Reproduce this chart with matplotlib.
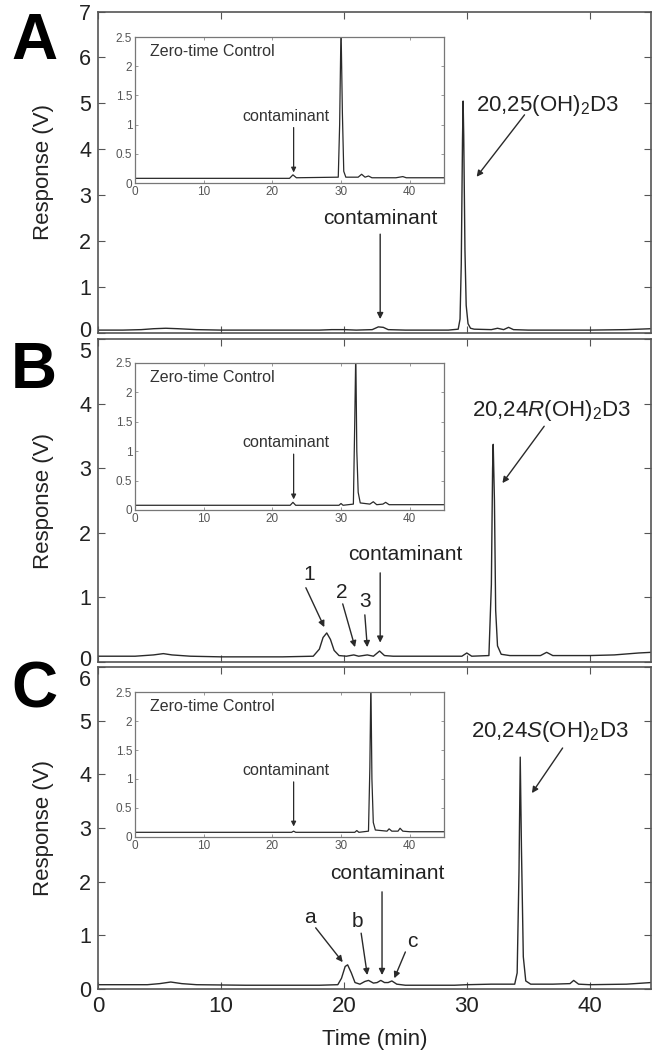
import matplotlib
matplotlib.use('Agg')
import matplotlib.pyplot as plt
from matplotlib.transforms import ScaledTranslation

plt.rcParams['font.family'] = ['Liberation Sans', 'DejaVu Sans']
plt.rcParams['mathtext.fontset'] = 'custom'
plt.rcParams['mathtext.rm'] = 'Liberation Sans'
plt.rcParams['mathtext.it'] = 'Liberation Sans:italic'

# chromatogram traces (time in min, response in V)
t_a = [0, 2, 3.5, 4.5, 5.5, 6.5, 8, 10, 14, 18, 19, 20, 21, 22.3, 22.8, 23.2, 23.6, 25, 27, 28.5,
       29.3, 29.45, 29.55, 29.65, 29.7, 29.75, 29.85, 29.95, 30.1, 30.3, 30.6,
       32, 32.5, 33, 33.4, 33.8, 35, 38, 40, 43, 44, 45]
v_a = [0.06, 0.06, 0.07, 0.09, 0.1, 0.09, 0.07, 0.06, 0.06, 0.06, 0.07, 0.07, 0.06, 0.07, 0.13, 0.12, 0.07, 0.06, 0.06, 0.06,
       0.08, 0.3, 1.5, 4.2, 5.05, 4.3, 1.8, 0.6, 0.2, 0.1, 0.08,
       0.07, 0.1, 0.07, 0.12, 0.07, 0.06, 0.06, 0.06, 0.07, 0.08, 0.09]

t_a_ctrl = [0, 10, 20, 22.5, 23, 23.5, 29.6, 29.8, 30.0, 30.2, 30.4, 30.7, 32.5, 33, 33.5, 34, 34.5, 38, 39, 39.5, 42, 45]
v_a_ctrl = [0.08, 0.08, 0.08, 0.08, 0.14, 0.09, 0.1, 1.0, 2.7, 1.2, 0.2, 0.1, 0.1, 0.15, 0.1, 0.12, 0.09, 0.09, 0.11, 0.09, 0.09, 0.09]

t_b = [0, 3, 4.5, 5.3, 6, 7.5, 10, 15, 17.5, 18.0, 18.3, 18.6, 18.9, 19.2, 19.6, 20.2, 20.8, 21.2, 21.9, 22.4,
       22.9, 23.3, 24, 27, 29.6, 30, 30.4, 31.8, 32.0, 32.1, 32.15, 32.25, 32.35, 32.5, 32.8, 33.5,
       36, 36.5, 37, 40, 42, 44, 45]
v_b = [0.09, 0.09, 0.11, 0.13, 0.11, 0.09, 0.08, 0.08, 0.09, 0.2, 0.38, 0.45, 0.35, 0.18, 0.1, 0.09, 0.11, 0.09, 0.11, 0.09,
       0.17, 0.1, 0.09, 0.09, 0.09, 0.14, 0.09, 0.1, 1.2, 3.0, 3.37, 2.5, 0.8, 0.25, 0.12, 0.1,
       0.1, 0.15, 0.1, 0.1, 0.11, 0.14, 0.15]

t_b_ctrl = [0, 20, 22.6, 23, 23.4, 29.7, 30, 30.3, 31.8, 32.0, 32.15, 32.3, 32.5, 32.8, 34.2, 34.7, 35.2,
            36.1, 36.5, 37, 45]
v_b_ctrl = [0.08, 0.08, 0.08, 0.13, 0.08, 0.08, 0.11, 0.08, 0.1, 1.5, 2.7, 1.0, 0.3, 0.12, 0.1, 0.14, 0.09,
            0.1, 0.13, 0.09, 0.09]

t_c = [0, 4, 5, 5.9, 6.8, 8, 12, 18, 19.5, 19.8, 20.1, 20.3, 20.6, 20.9, 21.3, 21.7, 22.0, 22.4, 22.7,
       23.0, 23.3, 23.6, 23.9, 24.3, 25, 29, 30, 32, 33.9, 34.1, 34.25, 34.35, 34.45, 34.6, 34.8, 35.2,
       37, 38.4, 38.7, 39.1, 40, 43, 45]
v_c = [0.08, 0.08, 0.1, 0.13, 0.1, 0.08, 0.07, 0.07, 0.08, 0.2, 0.42, 0.45, 0.3, 0.12, 0.09, 0.14, 0.16, 0.11, 0.12,
       0.16, 0.12, 0.12, 0.15, 0.09, 0.07, 0.07, 0.08, 0.09, 0.09, 0.3, 2.2, 4.32, 2.6, 0.6, 0.15, 0.09,
       0.09, 0.1, 0.16, 0.09, 0.08, 0.09, 0.12]

t_c_ctrl = [0, 22.8, 23.1, 23.4, 32, 32.3, 32.6, 34.0, 34.2, 34.35, 34.5, 34.7, 35, 36.7, 37.0, 37.4,
            38.3, 38.6, 39, 40, 45]
v_c_ctrl = [0.08, 0.08, 0.1, 0.08, 0.08, 0.11, 0.08, 0.1, 1.2, 2.7, 1.0, 0.25, 0.12, 0.1, 0.14, 0.1,
            0.1, 0.15, 0.1, 0.09, 0.09]

panel_letters = ['A', 'B', 'C']
y_max = [7, 5, 6]
product_labels = ['20,25(OH)$_2$D3', r'20,24$\it{R}$(OH)$_2$D3', r'20,24$\it{S}$(OH)$_2$D3']

line_col = '#2a2a2a'
spine_col = '#555555'

fig = plt.figure(figsize=(6.55, 10.5), dpi=100)

main_pos = [[0.150, 0.683, 0.844, 0.306],
            [0.150, 0.3695, 0.844, 0.3076],
            [0.150, 0.0581, 0.844, 0.3067]]
inset_pos = [[0.2061, 0.8257, 0.4718, 0.139],
             [0.2061, 0.5143, 0.4718, 0.140],
             [0.2061, 0.2029, 0.4718, 0.138]]

traces = [(t_a, v_a), (t_b, v_b), (t_c, v_c)]
ctrls = [(t_a_ctrl, v_a_ctrl), (t_b_ctrl, v_b_ctrl), (t_c_ctrl, v_c_ctrl)]

arrow = dict(arrowstyle='-|>', color=line_col, lw=1.0, mutation_scale=9, shrinkA=0, shrinkB=0)
small_arrow = dict(arrowstyle='-|>', color=line_col, lw=0.9, mutation_scale=7, shrinkA=0, shrinkB=0)

main_axes = []
for i in range(3):
    ax = fig.add_axes(main_pos[i])
    main_axes.append(ax)
    t, v = traces[i]
    ax.plot(t, v, color=line_col, lw=1.0)
    ax.set_xlim(0, 45)
    ax.set_ylim(0, y_max[i])
    ax.set_xticks([0, 10, 20, 30, 40])
    ax.set_yticks(range(0, y_max[i] + 1))
    ax.tick_params(direction='in', top=True, right=True, length=5, width=0.8,
                   color=spine_col, labelsize=15.5, labelcolor='#222222', pad=5)
    ax.tick_params(axis='x', labelsize=16)
    if i < 2:
        ax.tick_params(labelbottom=False)
    else:
        ax.set_xlabel('Time (min)', fontsize=16, color='#222222', labelpad=9)
    for s in ax.spines.values():
        s.set_color(spine_col)
        s.set_linewidth(1.2)
    ax.set_ylabel('Response (V)', fontsize=16, color='#222222')
    ax.yaxis.set_label_coords(-0.08, 0.5)

    # inset with zero-time control
    ins = fig.add_axes(inset_pos[i])
    tc, vc = ctrls[i]
    ins.plot(tc, vc, color=line_col, lw=0.9)
    ins.set_xlim(0, 45)
    ins.set_ylim(0, 2.5)
    ins.set_xticks([0, 10, 20, 30, 40])
    ins.set_yticks([0, 0.5, 1, 1.5, 2, 2.5])
    ins.set_yticklabels(['0', '0.5', '1', '1.5', '2', '2.5'])
    ins.tick_params(direction='in', top=True, right=True, length=2.5, width=0.6,
                    color='#888888', labelsize=8.5, labelcolor='#555555', pad=2)
    for s in ins.spines.values():
        s.set_color('#777777')
        s.set_linewidth(0.9)
    ins.text(0.05, 0.9, 'Zero-time Control', transform=ins.transAxes, fontsize=11.5,
             color='#333333', va='center', ha='left')
    ins.text(22.0, 1.14, 'contaminant', fontsize=11.5, color='#333333', ha='center', va='center')
    ins.annotate('', xy=(23.1, 0.18), xytext=(23.1, 0.95), arrowprops=small_arrow)

    fig.text(0.052, [0.960, 0.647, 0.342][i], panel_letters[i], fontsize=46,
             fontweight='bold', color='black', ha='center', va='center')

    if i == 0:
        ax.text(36.6, 4.95, product_labels[0], fontsize=16, color='#222222', ha='center', va='center')
        ax.annotate('', xy=(30.8, 3.4), xytext=(34.7, 4.75), arrowprops=arrow)
        ax.text(22.95, 2.5, 'contaminant', fontsize=15, color='#222222', ha='center', va='center')
        ax.annotate('', xy=(22.95, 0.3), xytext=(22.95, 2.15), arrowprops=arrow)
    elif i == 1:
        ax.text(36.9, 3.9, product_labels[1], fontsize=16, color='#222222', ha='center', va='center')
        ax.annotate('', xy=(32.9, 2.77), xytext=(36.3, 3.65), arrowprops=arrow)
        ax.text(25.0, 1.66, 'contaminant', fontsize=15, color='#222222', ha='center', va='center')
        ax.annotate('', xy=(22.95, 0.3), xytext=(22.95, 1.38), arrowprops=arrow)
        ax.text(17.2, 1.35, '1', fontsize=15, color='#222222', ha='center', va='center')
        ax.annotate('', xy=(18.4, 0.54), xytext=(16.9, 1.15), arrowprops=arrow)
        ax.text(19.8, 1.07, '2', fontsize=15, color='#222222', ha='center', va='center')
        ax.annotate('', xy=(20.9, 0.23), xytext=(19.9, 0.9), arrowprops=arrow)
        ax.text(21.7, 0.93, '3', fontsize=15, color='#222222', ha='center', va='center')
        ax.annotate('', xy=(21.9, 0.23), xytext=(21.7, 0.73), arrowprops=arrow)
    else:
        ax.text(36.8, 4.8, product_labels[2], fontsize=16, color='#222222', ha='center', va='center')
        ax.annotate('', xy=(35.3, 3.65), xytext=(37.8, 4.49), arrowprops=arrow)
        ax.text(23.5, 2.16, 'contaminant', fontsize=15, color='#222222', ha='center', va='center')
        ax.annotate('', xy=(23.1, 0.26), xytext=(23.1, 1.81), arrowprops=arrow)
        ax.text(17.2, 1.34, 'a', fontsize=15, color='#222222', ha='center', va='center')
        ax.annotate('', xy=(19.9, 0.5), xytext=(17.7, 1.14), arrowprops=arrow)
        ax.text(21.1, 1.25, 'b', fontsize=15, color='#222222', ha='center', va='center')
        ax.annotate('', xy=(21.9, 0.26), xytext=(21.4, 1.04), arrowprops=arrow)
        ax.text(25.6, 0.88, 'c', fontsize=15, color='#222222', ha='center', va='center')
        ax.annotate('', xy=(24.1, 0.2), xytext=(25.0, 0.69), arrowprops=arrow)

# nudge the crowded edge tick labels apart, as in the original layout
for i, ax in enumerate(main_axes):
    labels = ax.get_yticklabels()
    if i > 0:
        top = labels[-1]
        top.set_transform(top.get_transform() + ScaledTranslation(0, -8 / 72, fig.dpi_scale_trans))
    if i < 2:
        bot = labels[0]
        bot.set_transform(bot.get_transform() + ScaledTranslation(0, 3 / 72, fig.dpi_scale_trans))

fig.savefig('out.png', dpi=100)
